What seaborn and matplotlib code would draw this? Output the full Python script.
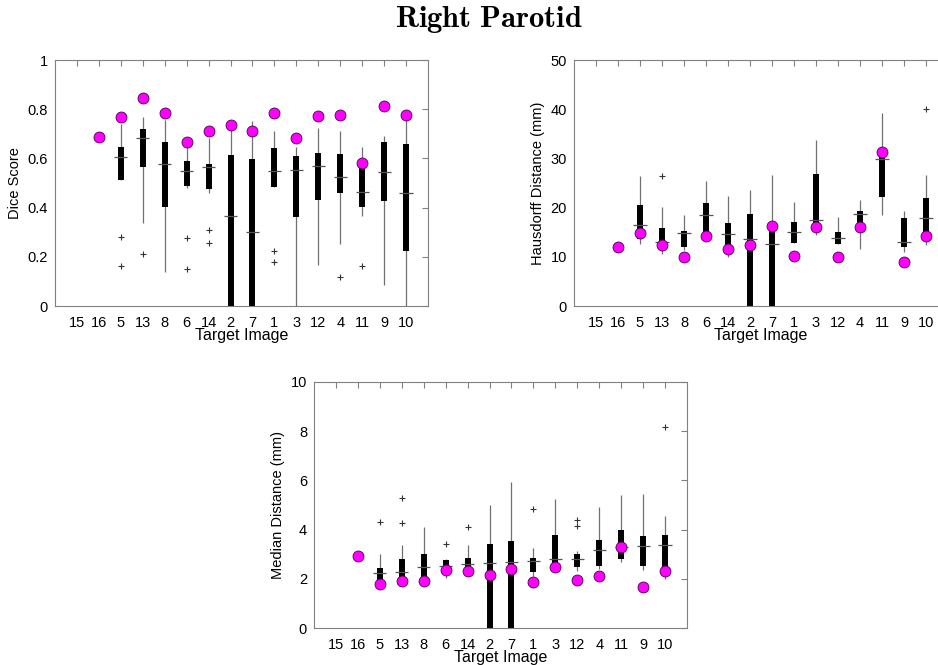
import matplotlib
matplotlib.use('Agg')
import matplotlib.pyplot as plt
import seaborn as sns
import numpy as np
import pandas as pd

nan = np.nan
cats = ['15', '16', '5', '13', '8', '6', '14', '2', '7', '1', '3', '12', '4', '11', '9', '10']

# ---- Dice Score ----
dice_dot = [nan, 0.688, 0.770, 0.844, 0.783, 0.668, 0.710, 0.737, 0.711, 0.783, 0.682, 0.774, 0.776, 0.580, 0.813, 0.776]
dice_whi = [nan, nan, 0.740, 0.767, 0.756, 0.648, 0.682, 0.715, 0.753, 0.711, 0.645, 0.722, 0.711, 0.648, 0.691, 0.759]
dice_q3 = [nan, nan, 0.648, 0.720, 0.665, 0.591, 0.577, 0.614, 0.599, 0.641, 0.610, 0.623, 0.618, 0.560, 0.668, 0.657]
dice_med = [nan, nan, 0.604, 0.682, 0.576, 0.549, 0.564, 0.367, 0.299, 0.549, 0.553, 0.569, 0.526, 0.465, 0.546, 0.458]
dice_q1 = [nan, nan, 0.512, 0.564, 0.401, 0.488, 0.474, 0.0, 0.0, 0.485, 0.360, 0.431, 0.458, 0.404, 0.428, 0.225]
dice_wlo = [nan, nan, 0.512, 0.339, 0.140, 0.478, 0.461, 0.0, 0.0, 0.483, 0.0, 0.168, 0.252, 0.366, 0.085, 0.0]
dice_out_cat = ['5', '5', '13', '6', '6', '14', '14', '1', '1', '4', '11']
dice_out_val = [0.282, 0.163, 0.211, 0.278, 0.149, 0.308, 0.257, 0.222, 0.179, 0.119, 0.163]

# ---- Hausdorff Distance ----
hd_dot = [nan, 11.9, 14.9, 12.5, 9.9, 14.2, 11.5, 12.3, 16.3, 10.2, 16.1, 10.0, 16.0, 31.4, 9.0, 14.3]
hd_whi = [nan, nan, 26.4, 20.1, 18.4, 25.5, 22.4, 23.6, 26.6, 21.1, 33.8, 18.0, 21.5, 39.3, 19.4, 26.6]
hd_q3 = [nan, nan, 20.5, 15.8, 15.3, 20.9, 16.9, 18.6, 16.3, 17.0, 26.8, 15.0, 19.4, 31.0, 17.9, 21.9]
hd_med = [nan, nan, 16.4, 13.1, 14.8, 18.4, 14.6, 13.6, 12.7, 15.0, 17.5, 13.8, 18.7, 29.9, 13.1, 17.8]
hd_q1 = [nan, nan, 13.6, 13.0, 12.0, 14.9, 12.1, 0.0, 0.0, 12.9, 16.9, 12.7, 16.9, 22.1, 11.9, 14.9]
hd_wlo = [nan, nan, 12.7, 10.6, 11.4, 14.9, 10.0, 0.0, 0.0, 12.9, 14.4, 12.7, 11.5, 18.4, 11.0, 12.5]
hd_out_cat = ['13', '10']
hd_out_val = [26.5, 40.0]

# ---- Median Distance ----
md_dot = [nan, 2.93, 1.79, 1.92, 1.92, 2.34, 2.33, 2.15, 2.38, 1.87, 2.47, 1.94, 2.13, 3.28, 1.67, 2.32]
md_whi = [nan, nan, 3.00, 3.36, 4.09, 2.82, 3.36, 5.00, 5.94, 3.27, 5.26, 3.13, 4.92, 5.40, 5.46, 4.55]
md_q3 = [nan, nan, 2.43, 2.82, 3.00, 2.78, 2.85, 3.40, 3.55, 2.86, 3.77, 3.02, 3.59, 3.97, 3.73, 3.77]
md_med = [nan, nan, 2.22, 2.26, 2.48, 2.52, 2.62, 2.66, 2.70, 2.74, 2.82, 2.82, 3.19, 3.29, 3.35, 3.39]
md_q1 = [nan, nan, 1.85, 2.00, 1.95, 2.35, 2.35, 0.0, 0.0, 2.28, 2.50, 2.48, 2.52, 2.79, 2.53, 2.35]
md_wlo = [nan, nan, 1.80, 1.95, 1.92, 2.05, 2.20, 0.0, 0.0, 2.12, 2.40, 2.32, 2.40, 2.69, 2.37, 2.01]
md_out_cat = ['5', '13', '13', '6', '14', '1', '12', '12', '10']
md_out_val = [4.30, 5.27, 4.25, 3.43, 4.09, 4.83, 4.16, 4.38, 8.19]

sns.set_theme(style='white')
plt.rcParams['font.family'] = ['Liberation Sans', 'DejaVu Sans']
plt.rcParams['mathtext.fontset'] = 'cm'

W, H = 938, 665
fig = plt.figure(figsize=(W / 100, H / 100), dpi=100)


def add_ax(l, t, r, b):
    return fig.add_axes([l / W, 1 - b / H, (r - l) / W, (b - t) / H])


pos_of = {c: i + 1 for i, c in enumerate(cats)}


def draw(ax, dots, whi, q3, med, q1, wlo, out_cat, out_val, ylim, yticks, yticklabels, ylabel):
    pos = np.arange(1, len(cats) + 1)
    ax.vlines(pos, wlo, whi, color='#707070', lw=0.9, zorder=1)
    ax.vlines(pos, q1, q3, color='black', lw=4.3, zorder=2)
    med = np.array(med, dtype=float)
    ax.hlines(med, pos - 0.3, pos + 0.3, color='#555555', lw=0.9, zorder=3)
    odf = pd.DataFrame({'x': [pos_of[c] for c in out_cat], 'y': out_val})
    sns.scatterplot(data=odf, x='x', y='y', ax=ax, marker='+', color='#333333',
                    s=22, linewidth=0.8, zorder=4)
    ddf = pd.DataFrame({'x': pos, 'y': dots}).dropna()
    sns.scatterplot(data=ddf, x='x', y='y', ax=ax, color='#ff00ff', edgecolor='#4a004a',
                    s=62, linewidth=0.6, zorder=5)
    ax.set_xlim(0, 17)
    ax.set_ylim(*ylim)
    ax.set_xticks(pos)
    ax.set_xticklabels(cats)
    ax.set_yticks(yticks)
    ax.set_yticklabels(yticklabels)
    ax.tick_params(axis='both', direction='in', top=True, right=True, length=4,
                   width=0.8, color='#808080', labelsize=10.5, labelcolor='black')
    ax.tick_params(axis='x', pad=7)
    ax.tick_params(axis='y', pad=5)
    for s in ax.spines.values():
        s.set_color('#808080')
        s.set_linewidth(0.8)
    ax.set_xlabel('Target Image', fontsize=11.5, labelpad=-1.5, color='black')
    ax.set_ylabel(ylabel, fontsize=10.5, labelpad=4, color='black')


ax1 = add_ax(55, 60, 428, 306)
draw(ax1, dice_dot, dice_whi, dice_q3, dice_med, dice_q1, dice_wlo, dice_out_cat, dice_out_val,
     (0, 1), [0, 0.2, 0.4, 0.6, 0.8, 1.0], ['0', '0.2', '0.4', '0.6', '0.8', '1'], 'Dice Score')

ax2 = add_ax(574, 60, 948, 306)
draw(ax2, hd_dot, hd_whi, hd_q3, hd_med, hd_q1, hd_wlo, hd_out_cat, hd_out_val,
     (0, 50), [0, 10, 20, 30, 40, 50], ['0', '10', '20', '30', '40', '50'], 'Hausdorff Distance (mm)')

ax3 = add_ax(314, 382, 687, 628)
draw(ax3, md_dot, md_whi, md_q3, md_med, md_q1, md_wlo, md_out_cat, md_out_val,
     (0, 10), [0, 2, 4, 6, 8, 10], ['0', '2', '4', '6', '8', '10'], 'Median Distance (mm)')

fig.text(489 / W, 1 - 27 / H, r'$\mathbf{Right\ Parotid}$', ha='center', va='baseline',
         fontsize=22, color='black')

fig.savefig('out.png', dpi=100)
